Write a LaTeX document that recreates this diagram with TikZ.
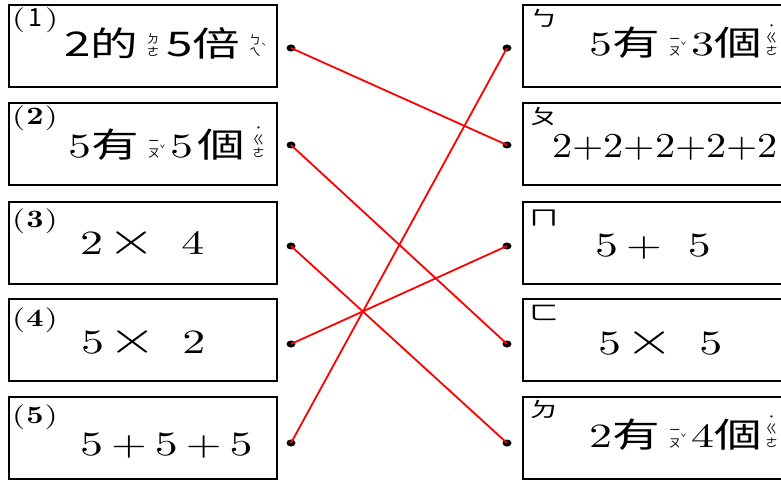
\documentclass[tikz,border=0pt]{standalone}
\usepackage{fontspec}
\usetikzlibrary{shapes.geometric}
\newfontfamily\cjk[FakeStretch=1.4]{Noto Sans CJK TC}
\newfontfamily\zyfont{Noto Sans CJK TC}
\newfontfamily\zyvert[RawFeature=+vert]{Noto Sans CJK TC}
\newfontfamily\num[FakeStretch=1.35]{lmroman10-regular.otf}
\newfontfamily\numbf[FakeStretch=1.2]{lmroman10-bold.otf}
\newfontfamily\numsum[FakeStretch=1.15]{lmroman10-regular.otf}

% zhuyin beside a character: two signs stacked, tone mark to the right
\newcommand\zy[3]{\hspace{9pt}{\fontsize{12}{12}\selectfont\zyfont
  \shortstack{#1\\#2}\raisebox{6pt}{\fontsize{9}{9}\selectfont #3}}\hspace{5pt}}
% neutral tone: the dot sits on top
\newcommand\zyn[2]{\hspace{4pt}{\fontsize{12}{12}\selectfont\zyfont
  \shortstack{˙\\#1\\#2}}}
\newcommand\tms{{\fontsize{46}{46}\selectfont\num ×}}
\newcommand\pls{{\num +}}

\begin{document}
\begin{tikzpicture}[x=1pt, y=-1pt,
    card/.style={draw=black, line width=1.8pt, inner sep=0pt, outer sep=0pt,
      minimum width=268pt, minimum height=82pt, anchor=north west},
    dotmark/.style={ellipse, fill=black, inner sep=0pt, minimum width=9pt, minimum height=7pt},
    link/.style={draw=red, line width=1.8pt},
    tag/.style={inner sep=0pt, anchor=base west, font=\fontsize{25}{25}\selectfont\num},
    ltr/.style={inner sep=0pt, anchor=base west, font=\fontsize{21}{21}\selectfont\cjk},
    expr/.style={inner sep=0pt, anchor=base west, font=\fontsize{34}{34}\selectfont\num},
  ]
  \useasboundingbox (0,0) rectangle (781,481);
  \clip (0,0) rectangle (781,481);

  % cards, the right column runs off the page
  \foreach \i/\t in {1/5, 2/103, 3/202, 4/299, 5/397} {
    \node[card] (L\i) at (9,\t) {};
    \node[card, minimum width=300pt] (R\i) at (523,\t) {};
  }

  % answer dots
  \foreach \i/\y in {1/48, 2/145, 3/246, 4/344, 5/443} {
    \node[dotmark] (l\i) at (291,\y) {};
    \node[dotmark] (r\i) at (507,\y) {};
  }

  % item numbers
  \node[tag] (t1) at (12,27) {(\hspace{3pt}{\zyfont 1}\hspace{3pt})};
  \node[tag] (t2) at (12,125) {(\hspace{1pt}{\numbf 2}\hspace{1pt})};
  \node[tag] (t3) at (12,227) {(\hspace{1pt}{\numbf 3}\hspace{1pt})};
  \node[tag] (t4) at (12,326) {(\hspace{1pt}{\numbf 4}\hspace{1pt})};
  \node[tag] (t5) at (12,423) {(\hspace{1pt}{\numbf 5}\hspace{1pt})};
  \foreach \i/\s/\y in {1/ㄅ/27, 2/ㄆ/125, 3/ㄇ/225, 4/ㄈ/320, 5/ㄉ/417}
    \node[ltr] (s\i) at (529,\y) {\s};

  % left expressions
  \node[expr] (e1) at (64,57) {\cjk 2的\zy{ㄉ}{ㄜ}{}\hspace{2pt}5倍\zy{ㄅ}{ㄟ}{ˋ}};
  \node[expr] (e2) at (68,158) {5{\cjk 有}\zy{\zyvert ㄧ}{ㄡ}{ˇ}5\hspace{4pt}{\cjk 個}\hspace{4pt}\zyn{ㄍ}{ㄜ}};
  \node[expr] (e3) at (80,254) {2\hspace{4pt}\tms\hspace{26pt}4};
  \node[expr] (e4) at (81,353) {5\hspace{4pt}\tms\hspace{26pt}2};
  \node[expr] (e5) at (80,455) {5\hspace{8pt}\pls\hspace{8pt}5\hspace{8pt}\pls\hspace{8pt}5};

  % right expressions
  \node[expr] (f1) at (589,56) {5{\cjk 有}\zy{\zyvert ㄧ}{ㄡ}{ˇ}3{\cjk 個}\zyn{ㄍ}{ㄜ}};
  \node[expr, font=\fontsize{35}{35}\selectfont\numsum] (f2) at (552,158) {2+2+2+2+2};
  \node[expr] (f3) at (595,256) {5\hspace{8pt}\pls\hspace{26pt}5};
  \node[expr] (f4) at (598,354) {5\hspace{4pt}\tms\hspace{26pt}5};
  \node[expr] (f5) at (589,447) {2{\cjk 有}\zy{\zyvert ㄧ}{ㄡ}{ˇ}4{\cjk 個}\zyn{ㄍ}{ㄜ}};

  % matching lines
  \draw[link] (l1.center) -- (r2.center);
  \draw[link] (l2.center) -- (r4.center);
  \draw[link] (l3.center) -- (r5.center);
  \draw[link] (l4.center) -- (r3.center);
  \draw[link] (l5.center) -- (r1.center);
\end{tikzpicture}
\end{document}
